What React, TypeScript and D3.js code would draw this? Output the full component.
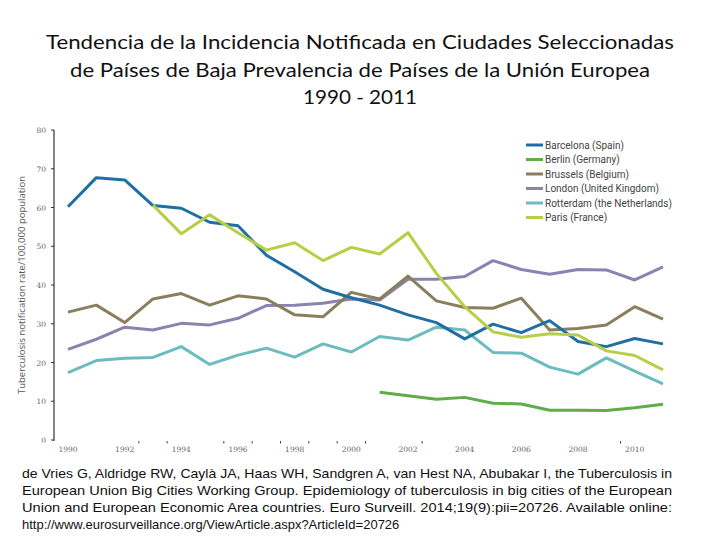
import React from "react";
import * as d3 from "d3";

const years = d3.range(1990, 2012);
const barcelona = [60.2, 67.7, 67.1, 60.5, 59.8, 56.2, 55.3, 47.7, 43.4, 38.9, 36.7, 34.8, 32.3, 30.3, 26.1, 29.9, 27.7, 30.8, 25.4, 24.1, 26.2, 24.8];
const berlin = [null, null, null, null, null, null, null, null, null, null, null, 12.3, 11.4, 10.5, 11.0, 9.5, 9.3, 7.7, 7.7, 7.6, 8.3, 9.2];
const brussels = [33.0, 34.8, 30.3, 36.4, 37.8, 34.8, 37.2, 36.4, 32.3, 31.8, 38.1, 36.4, 42.3, 35.9, 34.2, 34.0, 36.6, 28.4, 28.8, 29.7, 34.4, 31.2];
const london = [23.4, 26.0, 29.1, 28.4, 30.1, 29.7, 31.4, 34.7, 34.8, 35.3, 36.4, 36.1, 41.5, 41.5, 42.2, 46.3, 44.0, 42.8, 44.0, 43.9, 41.3, 44.7];
const rotterdam = [17.4, 20.5, 21.1, 21.3, 24.1, 19.5, 21.9, 23.7, 21.4, 24.8, 22.7, 26.7, 25.8, 29.1, 28.4, 22.6, 22.4, 18.8, 17.0, 21.2, 17.8, 14.5];
const paris = [null, null, null, 60.6, 53.2, 58.1, 53.5, 49.0, 50.9, 46.3, 49.7, 48.0, 53.5, 43.0, 34.4, 27.9, 26.5, 27.4, 27.1, 23.0, 21.8, 18.1];

const seriesNames = ["Barcelona (Spain)", "Berlin (Germany)", "Brussels (Belgium)", "London (United Kingdom)", "Rotterdam (the Netherlands)", "Paris (France)"];
const seriesValues = [barcelona, berlin, brussels, london, rotterdam, paris];
const seriesColors = ["#1f6fa3", "#5fac48", "#8a7e5c", "#8c82b0", "#6cbcbf", "#b6cf46"];
const drawOrder = [3, 4, 1, 2, 0, 5];

const yTicks = [0, 10, 20, 30, 40, 50, 60, 70, 80];
const xTickLabels = [1990, 1992, 1994, 1996, 1998, 2000, 2002, 2004, 2006, 2008, 2010];
const minorTicks = [1992.5, 1993.5, 1995.5, 1996.5, 1997.5, 1998.5, 1999.5, 2000.5, 2002.5, 2009.5];

const titleLines = [
  "Tendencia de la Incidencia Notificada en Ciudades Seleccionadas",
  "de Países de Baja Prevalencia de Países de la Unión Europea",
  "1990 - 2011",
];
const citationLines = [
  "de Vries G, Aldridge RW, Caylà JA, Haas WH, Sandgren A, van Hest NA, Abubakar I, the Tuberculosis in",
  "European Union Big Cities Working Group. Epidemiology of tuberculosis in big cities of the European",
  "Union and European Economic Area countries. Euro Surveill. 2014;19(9):pii=20726. Available online:",
  "http://www.eurosurveillance.org/ViewArticle.aspx?ArticleId=20726",
];
const yAxisTitle = "Tuberculosis notification rate/100,000 population";

export default function App() {
  const W = 720, H = 540;
  const x = d3.scaleLinear().domain([1990, 2011]).range([68, 663]);
  const y = d3.scaleLinear().domain([0, 80]).range([440, 130]);
  const line = d3
    .line<number | null>()
    .defined((d) => d !== null)
    .x((_, i) => x(years[i]))
    .y((d) => y(d as number));

  const titleWidths = [628, 580, 114];
  const titleBase = [49, 77, 104];
  const citeBase = [478, 495, 512, 529];
  const legendY = d3.range(seriesNames.length).map((i) => 145 + i * 14.5);

  return (
    <svg width={W} height={H} style={{ position: "absolute", left: 0, top: 0, background: "#fff" }}>
      <rect width={W} height={H} fill="#fff" />
      {titleLines.map((t, i) => (
        <text
          key={t}
          x={360}
          y={titleBase[i]}
          textAnchor="middle"
          fontFamily="Lato, 'Open Sans', sans-serif"
          fontSize={20}
          fill="#111"
          textLength={titleWidths[i]}
          lengthAdjust="spacingAndGlyphs"
        >
          {t}
        </text>
      ))}

      {/* y axis */}
      <line x1={54} x2={54} y1={y(80)} y2={y(0) + 1} stroke="#333" strokeWidth={1.2} />
      {yTicks.map((t) => (
        <g key={t}>
          <line x1={51} x2={54} y1={y(t)} y2={y(t)} stroke="#333" strokeWidth={1} />
          <text x={46} y={y(t) + 3} textAnchor="end" fontFamily="'DejaVu Serif', serif" fontSize={7.5} fill="#666">
            {t}
          </text>
        </g>
      ))}
      <text
        transform={`translate(25,${(y(0) + y(80)) / 2}) rotate(-90)`}
        textAnchor="middle"
        fontFamily="'Open Sans', sans-serif"
        fontSize={9.5}
        fill="#555"
      >
        {yAxisTitle}
      </text>

      {/* x axis labels */}
      {xTickLabels.map((t) => (
        <text key={t} x={x(t)} y={452} textAnchor="middle" fontFamily="'DejaVu Serif', serif" fontSize={7.5} fill="#666">
          {t}
        </text>
      ))}
      {minorTicks.map((t) => (
        <line key={t} x1={x(t)} x2={x(t)} y1={441} y2={443.5} stroke="#444" strokeWidth={1} />
      ))}

      {/* lines */}
      {drawOrder.map((i) => (
        <path
          key={seriesNames[i]}
          d={line(seriesValues[i] as (number | null)[]) || ""}
          fill="none"
          stroke={seriesColors[i]}
          strokeWidth={3}
          strokeLinejoin="round"
        />
      ))}

      {/* legend */}
      {seriesNames.map((n, i) => (
        <g key={n}>
          <line x1={526} x2={543} y1={legendY[i]} y2={legendY[i]} stroke={seriesColors[i]} strokeWidth={3} />
          <text x={545} y={legendY[i] + 3.5} fontFamily="Roboto, sans-serif" fontSize={10} fill="#444">
            {n}
          </text>
        </g>
      ))}

      {/* citation */}
      {citationLines.map((t, i) => (
        <text
          key={i}
          x={22}
          y={citeBase[i]}
          fontFamily="'Liberation Sans', Arial, sans-serif"
          fontSize={13}
          fill="#111"
          {...(i < 3 ? { textLength: 650, lengthAdjust: "spacingAndGlyphs" } : {})}
        >
          {t}
        </text>
      ))}
    </svg>
  );
}
